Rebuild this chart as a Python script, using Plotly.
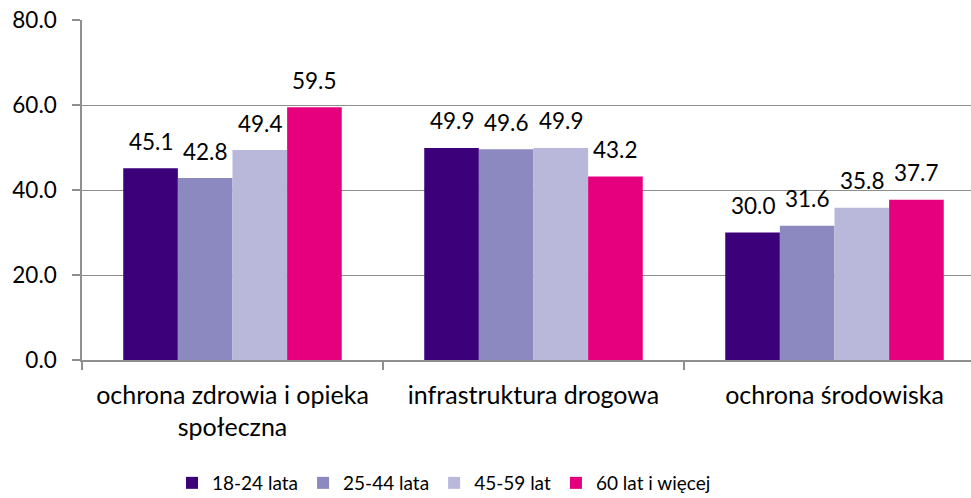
import plotly.graph_objects as go

categories = ["ochrona zdrowia i opieka<br>społeczna", "infrastruktura drogowa", "ochrona środowiska"]
series_names = ["18-24 lata", "25-44 lata", "45-59 lat", "60 lat i więcej"]
v_18_24 = [45.1, 49.9, 30.0]
v_25_44 = [42.8, 49.6, 31.6]
v_45_59 = [49.4, 49.9, 35.8]
v_60_plus = [59.5, 43.2, 37.7]
series_values = [v_18_24, v_25_44, v_45_59, v_60_plus]
colors = ["#3D007B", "#8B89BF", "#B9B8DA", "#E6007E"]
y_ticks = [0, 20, 40, 60, 80]

FONT = "Lato"
BARGAP = 0.274

fig = go.Figure()
for name, vals, col in zip(series_names, series_values, colors):
    fig.add_trace(go.Bar(
        x=categories, y=vals, name=name,
        marker=dict(color=col, line=dict(width=0)),
        hoverinfo="skip",
    ))

# data labels above bars
bw = (1 - BARGAP) / len(series_names)
annotations = []
for j, vals in enumerate(series_values):
    for i, v in enumerate(vals):
        annotations.append(dict(
            x=i + (j - (len(series_names) - 1) / 2) * bw, y=v,
            xref="x", yref="y", text=f"{v:.1f}", showarrow=False,
            yanchor="middle", yshift=27,
            font=dict(family=FONT, size=22.5, color="#000000"),
        ))

fig.update_layout(
    width=971, height=498,
    margin=dict(l=82, r=0, t=20, b=138, autoexpand=False),
    paper_bgcolor="white", plot_bgcolor="white",
    barmode="group", bargap=BARGAP, bargroupgap=0,
    font=dict(family=FONT, size=22.5, color="#000000"),
    annotations=annotations,
    showlegend=True,
    legend=dict(
        orientation="h",
        xref="container", x=172 / 971, xanchor="left",
        yref="container", y=(498 - 483) / 498, yanchor="middle",
        font=dict(family=FONT, size=19, color="#000000"),
        itemclick=False, itemdoubleclick=False,
    ),
)

fig.update_xaxes(
    type="category",
    range=[-0.5, -0.5 + 889 / 301],
    showline=True, linecolor="#8F8F8F", linewidth=1.5,
    ticks="outside", tickson="boundaries", ticklen=8, tickcolor="#8F8F8F", tickwidth=1.5,
    ticklabelstandoff=12,
    showgrid=False, fixedrange=True,
    tickfont=dict(family=FONT, size=25, color="#000000"),
)
fig.update_yaxes(
    range=[0, 80], tickvals=y_ticks, tickformat=".1f",
    showline=True, linecolor="#8F8F8F", linewidth=1.5,
    ticks="outside", ticklen=8, tickcolor="#8F8F8F", tickwidth=1.5,
    ticklabelstandoff=11,
    showgrid=True, gridcolor="#8F8F8F", gridwidth=1.3,
    zeroline=False, fixedrange=True,
    tickfont=dict(family=FONT, size=22.5, color="#000000"),
)

fig.write_html(
    "out.html",
    config={"displayModeBar": False},
    post_script="document.body.style.margin='0px';document.body.style.overflow='hidden';",
)
